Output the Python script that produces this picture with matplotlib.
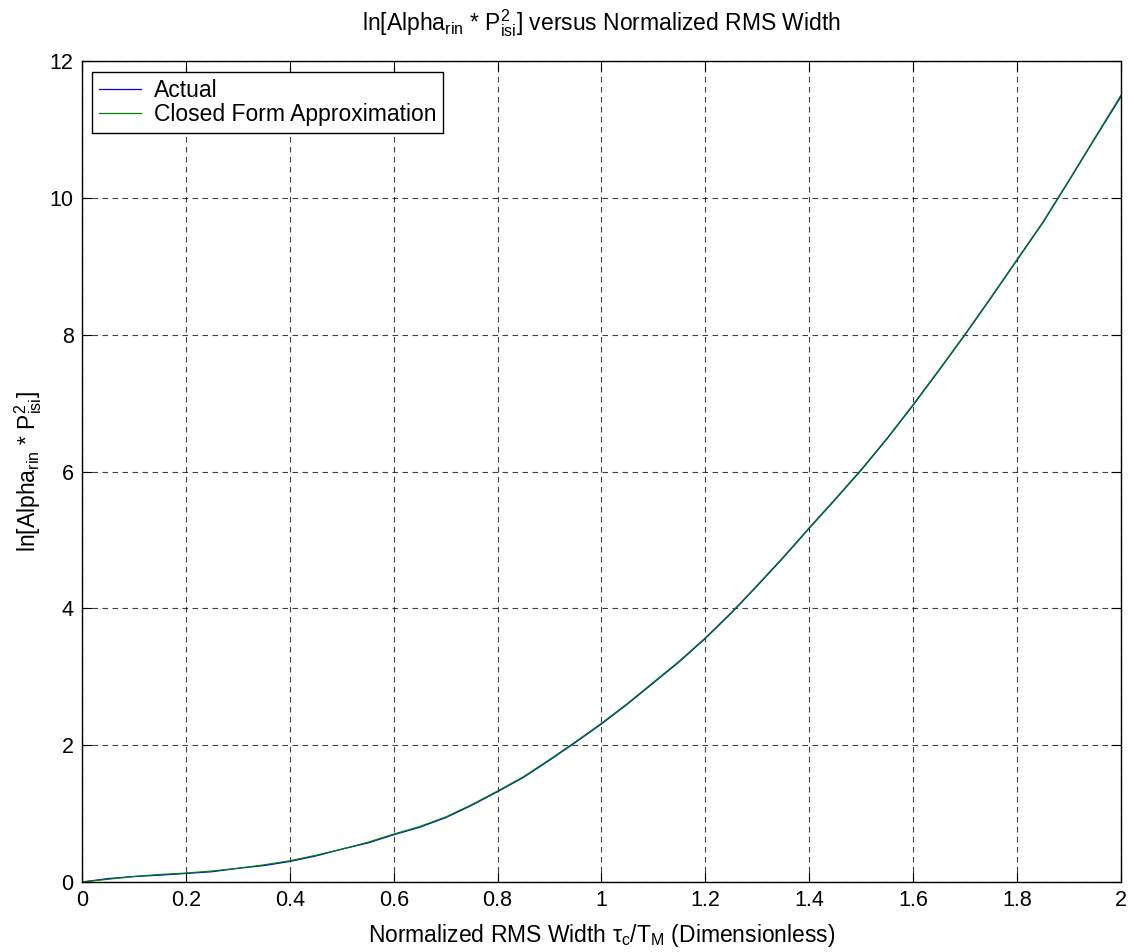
import numpy as np
import matplotlib
matplotlib.use("Agg")
import matplotlib.pyplot as plt

plt.rcParams['font.family'] = ['Liberation Sans', 'DejaVu Sans']
plt.rcParams['mathtext.fontset'] = 'custom'
plt.rcParams['mathtext.rm'] = 'Liberation Sans'
plt.rcParams['mathtext.it'] = 'Liberation Sans'
plt.rcParams['mathtext.bf'] = 'Liberation Sans:bold'

# normalized rms width tau_c / T_M
width = [0.0, 0.05, 0.1, 0.15, 0.2, 0.25, 0.3, 0.35, 0.4, 0.45, 0.5, 0.55,
         0.6, 0.65, 0.7, 0.75, 0.8, 0.85, 0.9, 0.95, 1.0, 1.05, 1.1, 1.15,
         1.2, 1.25, 1.3, 1.35, 1.4, 1.45, 1.5, 1.55, 1.6, 1.65, 1.7, 1.75,
         1.8, 1.85, 1.9, 1.95, 2.0]
actual = [0.0, 0.05, 0.08, 0.10, 0.125, 0.15, 0.20, 0.24, 0.30, 0.38, 0.48, 0.57,
          0.69, 0.80, 0.94, 1.12, 1.32, 1.53, 1.78, 2.04, 2.31, 2.60, 2.91, 3.22,
          3.56, 3.93, 4.33, 4.74, 5.17, 5.59, 6.02, 6.48, 6.97, 7.48, 8.00, 8.54,
          9.09, 9.64, 10.25, 10.87, 11.48]
closed_form = [0.0, 0.04, 0.08, 0.11, 0.13, 0.16, 0.20, 0.25, 0.31, 0.39, 0.48, 0.58,
               0.70, 0.81, 0.95, 1.13, 1.33, 1.54, 1.79, 2.05, 2.32, 2.61, 2.92, 3.23,
               3.57, 3.94, 4.34, 4.75, 5.18, 5.60, 6.03, 6.49, 6.98, 7.49, 8.01, 8.55,
               9.10, 9.65, 10.26, 10.88, 11.50]

fig = plt.figure(figsize=(11.29, 9.52), dpi=100)
ax = fig.add_axes([0.07263, 0.07353, 0.92028, 0.86239])

ax.plot(width, actual, color='#0000ff', lw=0.9, label='Actual')
ax.plot(width, closed_form, color='#008000', lw=0.9, label='Closed Form Approximation')

ax.set_xlim(0, 2)
ax.set_ylim(0, 12)
ax.set_xticks(np.arange(0, 2.01, 0.2))
ax.set_xticklabels(['0', '0.2', '0.4', '0.6', '0.8', '1', '1.2', '1.4', '1.6', '1.8', '2'])
ax.set_yticks(np.arange(0, 13, 2))
ax.tick_params(direction='in', top=True, right=True, labelsize=15.5, length=7, pad=6)
ax.grid(True, color='black', linestyle=(0, (5, 4)), lw=0.8, alpha=0.75)
for s in ax.spines.values():
    s.set_linewidth(1.0)

ax.set_title(r'ln[Alpha$_{\mathrm{rin}}$ * P$^{2}_{\mathrm{isi}}$] versus Normalized RMS Width',
             fontsize=16.5, pad=22)
ax.set_xlabel(r'Normalized RMS Width $\mathrm{\tau_c/T_M}$ (Dimensionless)', fontsize=16.5, labelpad=8)
ax.set_ylabel(r'ln[Alpha$_{\mathrm{rin}}$ * P$^{2}_{\mathrm{isi}}$]', fontsize=16.5, labelpad=4)

leg = ax.legend(loc='upper left', fontsize=16.5, fancybox=False, framealpha=1,
                edgecolor='black', handlelength=1.85, handletextpad=0.55,
                borderpad=0.3, labelspacing=0.05,
                bbox_to_anchor=(10 / 1039, 1 - 11 / 821), borderaxespad=0)
leg.get_frame().set_linewidth(1.0)

fig.savefig('out.png', dpi=100)
